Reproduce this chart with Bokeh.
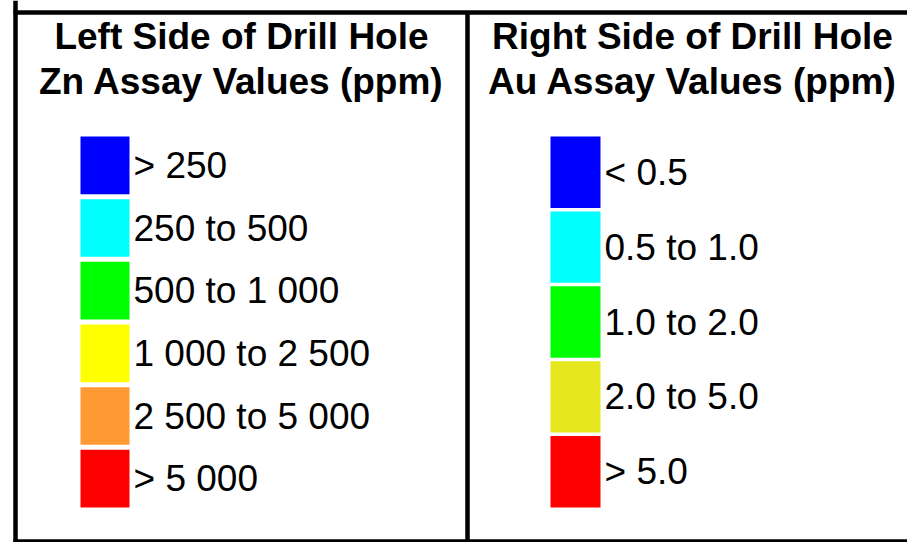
from bokeh.plotting import figure
from bokeh.models import Range1d, ColumnDataSource
from bokeh.core.properties import value
from bokeh.embed import file_html
from bokeh.resources import INLINE

# ---- data ----
zn_title = ["Left Side of Drill Hole", "Zn Assay Values (ppm)"]
zn_labels = ["> 250", "250 to 500", "500 to 1 000", "1 000 to 2 500", "2 500 to 5 000", "> 5 000"]
zn_colors = ["#0000FF", "#00FFFF", "#00FF00", "#FFFF00", "#FF9933", "#FF0000"]

au_title = ["Right Side of Drill Hole", "Au Assay Values (ppm)"]
au_labels = ["< 0.5", "0.5 to 1.0", "1.0 to 2.0", "2.0 to 5.0", "> 5.0"]
au_colors = ["#0000FF", "#00FFFF", "#00FF00", "#E6E61E", "#FF0000"]

# ---- layout (pixel space) ----
PW, PH = 907, 542
p = figure(width=PW, height=PH, output_backend="svg", toolbar_location=None,
           x_range=Range1d(0, PW), y_range=Range1d(PH, 0), min_border=0)
p.axis.visible = False
p.grid.visible = False
p.outline_line_color = None
p.background_fill_color = "white"
p.border_fill_color = "white"

FONT = "Liberation Sans"
FS = "37px"
LIST_TOP, LIST_BOTTOM = 136, 507


def legend_block(labels, colors, titles, sw_left, sw_right, text_x, center_x, gap):
    n = len(labels)
    step = (LIST_BOTTOM - LIST_TOP + gap) / n
    tops = [LIST_TOP + i * step for i in range(n)]
    bottoms = [t + step - gap for t in tops]
    src = ColumnDataSource(dict(
        left=[sw_left] * n, right=[sw_right] * n, top=tops, bottom=bottoms,
        color=colors, label=labels,
        tx=[text_x] * n, ty=[(t + b) / 2 for t, b in zip(tops, bottoms)]))
    p.quad(left="left", right="right", top="top", bottom="bottom", source=src,
           fill_color="color", line_color=None)
    p.text(x="tx", y="ty", text="label", source=src, text_font=value(FONT),
           text_font_size=FS, text_color="black", text_baseline="alphabetic",
           text_align="left")
    p.text(x=[center_x, center_x], y=[36, 81], text=titles, text_font=value(FONT),
           text_font_size=FS, text_font_style="bold", text_color="black",
           text_baseline="alphabetic", text_align="center")


legend_block(zn_labels, zn_colors, zn_title, 80, 129, 133, 241, 5)
legend_block(au_labels, au_colors, au_title, 550, 600, 604, 692, 3.5)

# frame lines
p.segment(x0=[15, 13, 13, 467], y0=[0, 12, 541, 12],
          x1=[15, PW, PW, 467], y1=[543, 12, 541, 543],
          line_color="black", line_width=4.5)

open("out.html", "w").write(file_html(p, INLINE))
